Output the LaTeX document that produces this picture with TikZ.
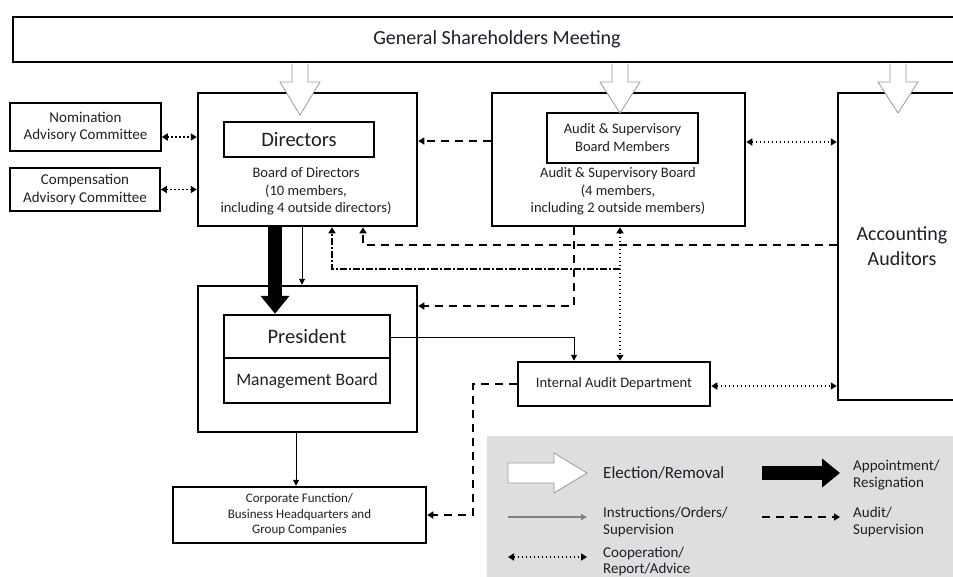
\documentclass[tikz,border=0pt]{standalone}
\usepackage{fontspec}
\setmainfont{Carlito}
\usepackage{tikz}
\usetikzlibrary{arrows.meta,positioning,calc}
\definecolor{GovInk}{HTML}{1E1E2A}
\definecolor{GovLegend}{HTML}{DEDEDE}
\definecolor{GovElect}{HTML}{9A9A9A}

\begin{document}
\begin{tikzpicture}[x=1pt,y=-1pt,
    box/.style={draw,line width=2.5pt,inner sep=0pt,align=center,text=GovInk},
    thinbox/.style={draw,line width=1.6pt,inner sep=0pt,align=center,text=GovInk},
    lbl/.style={align=center,text=GovInk,inner sep=0pt},
    instr/.style={line width=1pt,-{Triangle[length=6pt,width=6pt]}},
    audit/.style={line width=2pt,dash pattern=on 8pt off 6pt,-{Triangle[length=6pt,width=7pt]}},
    coop/.style={line width=1.6pt,dash pattern=on 1.5pt off 2.5pt,
      {Triangle[length=6pt,width=7pt]}-{Triangle[length=6pt,width=7pt]}},
    relayline/.style={line width=2pt,dash pattern=on 7pt off 2pt on 2pt off 2pt,-{Triangle[length=6pt,width=7pt]}},
    appoint/.style={line width=14pt,-{Triangle[length=18pt,width=28pt]}},
    elect/.style={draw=GovElect,fill=white,line width=0.8pt,line join=miter}]
  \clip (0,0) rectangle (953,576);
  % legend panel
  \fill[GovLegend] (487,436) rectangle (980,600);

  % boxes
  \node[box,minimum width=968pt,minimum height=45pt,font=\fontsize{20}{24}\selectfont] (gsm) at (497,39.5) {General Shareholders Meeting};

  \node[box,minimum width=219pt,minimum height=133pt] (bod) at (307.5,159.5) {};
  \node[box,minimum width=150pt,minimum height=35pt,font=\fontsize{20.5}{24}\selectfont] (dir) at (299,139.5) {Directors};
  \node[lbl,font=\fontsize{14.5}{17.5}\selectfont] (bodtxt) at (306,191.5) {Board of Directors\\(10 members,\\including 4 outside directors)};

  \node[thinbox,minimum width=151pt,minimum height=48pt,font=\fontsize{15}{17.5}\selectfont] (nom) at (85.5,127) {Nomination\\Advisory Committee};
  \node[thinbox,minimum width=150pt,minimum height=43pt,font=\fontsize{15}{17.5}\selectfont] (comp) at (85,189.5) {Compensation\\Advisory Committee};

  \node[box,minimum width=253pt,minimum height=133pt] (asb) at (618.5,159.5) {};
  \node[box,minimum width=151pt,minimum height=50pt,font=\fontsize{14.5}{18}\selectfont] (asbm) at (622.5,138) {Audit \& Supervisory\\Board Members};
  \node[lbl,font=\fontsize{14.5}{17.5}\selectfont] (asbtxt) at (618,191.5) {Audit \& Supervisory Board\\(4 members,\\including 2 outside members)};

  \node[box,minimum width=128pt,minimum height=307pt,font=\fontsize{20}{25}\selectfont] (aa) at (902,246.5) {Accounting\\Auditors};

  \node[box,minimum width=219pt,minimum height=146pt] (mg) at (307.5,359) {};
  \node[box,minimum width=166pt,minimum height=43pt,font=\fontsize{20.5}{24}\selectfont] (pre) at (307,336.5) {President};
  \node[box,minimum width=166pt,minimum height=45pt,font=\fontsize{17.5}{20}\selectfont] (mb) at (307,380.5) {Management Board};

  \node[box,minimum width=192pt,minimum height=44pt,font=\fontsize{14.5}{17}\selectfont] (iad) at (614,384) {Internal Audit Department};
  \node[box,minimum width=253pt,minimum height=56pt,font=\fontsize{13}{15.5}\selectfont] (corp) at (299.5,515) {Corporate Function/\\Business Headquarters and\\Group Companies};

  % election/removal arrows
  \foreach \ex/\tip in {300/115,620/113,898/113}
    \draw[elect] (\ex-8,63.5) -- (\ex-8,82) -- (\ex-20,82) -- (\ex,\tip) -- (\ex+20,82) -- (\ex+8,82) -- (\ex+8,63.5);

  % connectors
  \draw[coop] ([yshift=-10pt]nom.east) -- ([yshift=-10pt]nom.east -| bod.west);
  \draw[coop] (comp.east) -- (comp.east -| bod.west);
  \draw[audit] ([yshift=18.5pt]asb.west) -- ([yshift=18.5pt]asb.west -| bod.east);
  \draw[coop] ([yshift=17.5pt]asb.east) -- ([yshift=17.5pt]asb.east -| aa.west);
  \draw[audit] (aa.west |- 0,245) -| (bod.south -| 363,0);
  \coordinate (relay) at (620,269);
  \draw[relayline] (relay) -| (bod.south -| 332,0);
  \draw[coop] (asb.south -| 620,0) -- (iad.north -| 620,0);
  \draw[audit] (asb.south -| 574,0) |- (mg.east |- 0,306);
  \draw[appoint] (bod.south -| 275,0) -- (pre.north -| 275,0);
  \draw[instr] (bod.south -| 302,0) -- (mg.north -| 302,0);
  \draw[instr] (pre.east |- 0,337) -| (iad.north -| 574,0);
  \draw[coop] (iad.east |- 0,386) -- (aa.west |- 0,386);
  \draw[audit] (iad.west) -- (iad.west -| 473,0) |- (corp.east);
  \draw[instr] (mg.south -| 296,0) -- (corp.north -| 296,0);

  % legend
  \draw[elect] (508,463) -- (554,463) -- (554,453) -- (587,473) -- (554,493) -- (554,483) -- (508,483) -- cycle;
  \node[lbl,anchor=west,font=\fontsize{17}{17}\selectfont] (legelect) at (603,473) {Election/Removal};
  \draw[appoint] (762,473) -- (840,473);
  \node[lbl,anchor=west,align=left,font=\fontsize{15}{17}\selectfont] (legappt) at (853,475.5) {Appointment/\\Resignation};
  \draw[instr,draw=gray,fill=gray!60!black,line width=1.5pt] (508,517) -- (587,517);
  \node[lbl,anchor=west,align=left,font=\fontsize{15}{17}\selectfont] (leginstr) at (603,521.5) {Instructions/Orders/\\Supervision};
  \draw[audit] (762,517) -- (840,517);
  \node[lbl,anchor=west,align=left,font=\fontsize{15}{17}\selectfont] (legaudit) at (853,521.5) {Audit/\\Supervision};
  \draw[coop] (508,557) -- (587,557);
  \node[lbl,anchor=west,align=left,font=\fontsize{15}{16}\selectfont] (legcoop) at (603,561) {Cooperation/\\Report/Advice};
\end{tikzpicture}
\end{document}
